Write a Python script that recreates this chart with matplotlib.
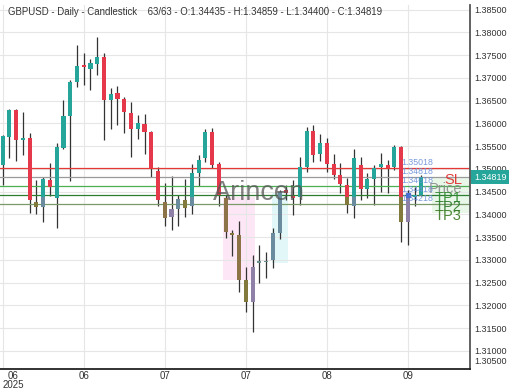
import matplotlib
matplotlib.use('Agg')
import matplotlib.pyplot as plt
from matplotlib.patches import Rectangle
import matplotlib.transforms as mtransforms

plt.rcParams['font.family'] = ['Liberation Sans', 'DejaVu Sans']

# ---------------- data ----------------
symbol = "GBPUSD"
timeframe = "Daily"
chart_type = "Candlestick"

opens = [1.35082, 1.35691, 1.36291, 1.35632, 1.35669, 1.34276, 1.34153, 1.34753, 1.34351, 1.35449,
         1.36159, 1.36900, 1.37274, 1.37192, 1.37309, 1.37450, 1.36511, 1.36671, 1.36526, 1.36232,
         1.35867, 1.35977, 1.35814, 1.34957, 1.34269, 1.33933, 1.34109, 1.34313, 1.34181, 1.34900,
         1.35230, 1.35801, 1.35115, 1.34351, 1.33581, 1.33544, 1.32555, 1.32078, 1.32935, 1.32950,
         1.32995, 1.33595, 1.34533, 1.34408, 1.34379, 1.35045, 1.35836, 1.35324, 1.35573, 1.35098,
         1.34863, 1.34643, 1.34181, 1.35082, 1.34548, 1.34775, 1.35045, 1.35082, 1.35045, 1.35471,
         1.33836, 1.34380, 1.34435]
highs = [1.35742, 1.36313, 1.36313, 1.36241, 1.35792, 1.34753, 1.34825, 1.35133, 1.35559, 1.36511,
         1.36951, 1.37720, 1.37537, 1.37406, 1.37902, 1.37537, 1.36768, 1.36819, 1.36584, 1.36474,
         1.36181, 1.36197, 1.35830, 1.35045, 1.34680, 1.34841, 1.34423, 1.34768, 1.35104, 1.35302,
         1.35867, 1.35889, 1.35155, 1.34423, 1.33654, 1.33858, 1.32834, 1.33104, 1.33324, 1.33177,
         1.33691, 1.34533, 1.34643, 1.34753, 1.35258, 1.35924, 1.35962, 1.35764, 1.35669, 1.35318,
         1.35120, 1.34790, 1.35427, 1.35265, 1.34900, 1.35082, 1.35340, 1.35192, 1.35522, 1.35500,
         1.34533, 1.34600, 1.34859]
lows = [1.34643, 1.35236, 1.35177, 1.35302, 1.34021, 1.34006, 1.33836, 1.34408, 1.33691, 1.35434,
        1.34737, 1.36790, 1.36841, 1.36731, 1.37060, 1.35632, 1.35867, 1.35973, 1.35779, 1.35265,
        1.35647, 1.35318, 1.34825, 1.34181, 1.33742, 1.33654, 1.33742, 1.33933, 1.34006, 1.34621,
        1.35155, 1.35010, 1.34181, 1.33471, 1.33082, 1.32298, 1.31858, 1.31419, 1.32496, 1.32592,
        1.32812, 1.33449, 1.34313, 1.33984, 1.34203, 1.34935, 1.35155, 1.35177, 1.34935, 1.34768,
        1.34474, 1.34021, 1.33911, 1.34313, 1.34351, 1.34203, 1.34496, 1.34474, 1.34973, 1.33397,
        1.33324, 1.34180, 1.34400]
closes = [1.35720, 1.36291, 1.35632, 1.35682, 1.34313, 1.34153, 1.34768, 1.34592, 1.35471, 1.36159,
          1.36913, 1.37258, 1.37230, 1.37331, 1.37450, 1.36511, 1.36643, 1.36526, 1.36247, 1.35867,
          1.35999, 1.35801, 1.35010, 1.34313, 1.33911, 1.34109, 1.34329, 1.34131, 1.34900, 1.35192,
          1.35814, 1.35082, 1.34423, 1.33616, 1.33544, 1.32555, 1.32078, 1.32834, 1.32973, 1.32980,
          1.33581, 1.34496, 1.34467, 1.34351, 1.35045, 1.35836, 1.35302, 1.35559, 1.35104, 1.34863,
          1.34665, 1.34203, 1.35230, 1.34548, 1.34768, 1.35010, 1.35098, 1.35010, 1.35471, 1.33836,
          1.34423, 1.34435, 1.34819]

x_tick_pos = [0, 12, 24, 36, 48, 60]
x_tick_labels = ["06\n2025", "06", "07", "07", "08", "09"]

y_ticks = [1.310, 1.315, 1.320, 1.325, 1.330, 1.335, 1.340, 1.345, 1.350, 1.355,
           1.360, 1.365, 1.370, 1.375, 1.380, 1.385]
y_bottom_label = "1.30500"

level_names = ["SL", "Price", "TP1", "TP2", "TP3"]
level_values = [1.35018, 1.34818, 1.34618, 1.34418, 1.34218]

# highlighted zones: (x_start, x_end, y_low, y_high)
pink_zone = [32.6, 37.4, 1.32555, 1.34386]
cyan_zone = [39.85, 42.3, 1.32922, 1.34496]
label_zone = [63.6, 69.2, 1.34020, 1.34800]

watermark = "Arincen"

# ---------------- styles ----------------
UP = '#26a69a'
DOWN = '#e5384a'
WICK = '#333333'
OLIVE = '#827a3c'
BROWN = '#8c7448'
PURPLE = '#8e80a6'
GRAYBLUE = '#6a8c9e'
GRAYTEAL = '#6b9090'
full_color = {5: OLIVE, 24: BROWN, 25: PURPLE, 26: GRAYBLUE, 27: OLIVE, 33: BROWN,
              34: OLIVE, 35: BROWN, 36: OLIVE, 37: PURPLE, 38: GRAYTEAL, 39: GRAYTEAL,
              40: GRAYBLUE, 41: GRAYBLUE, 60: PURPLE}
partial_tint = {6: GRAYBLUE, 28: GRAYBLUE, 51: OLIVE, 52: GRAYBLUE, 59: OLIVE}
tint_split = 1.3439
level_colors = ['#e53935', '#9a9a9a', '#4caf50', '#2e7d32', '#7a9a6a']
name_colors = ['#e02828', '#8a8a8a', '#2e8b2e', '#2d7a2d', '#3b7a20']

fig = plt.figure(figsize=(5.2, 3.9), dpi=100)
ax = fig.add_axes([0.0, 21 / 390, 470 / 520, 364 / 390])

n = len(opens)
ax.set_xlim(-0.4, 69.2)
ax.set_ylim(1.30599, 1.38601)

# zones
for (x0, x1, y0, y1), col in [(pink_zone, '#fde6f5'), (cyan_zone, '#e2f8f8'), (label_zone, '#e9f7e9')]:
    ax.add_patch(Rectangle((x0, y0), x1 - x0, y1 - y0, facecolor=col, edgecolor='none', zorder=0.5))

# grid
ax.set_yticks(y_ticks)
ax.set_yticklabels([f"{v:.5f}" for v in y_ticks])
ax.set_xticks(x_tick_pos)
ax.set_xticklabels(x_tick_labels, linespacing=0.9)
ax.grid(True, color='#e6e6e6', lw=0.8, zorder=0)
ax.set_axisbelow(True)

# candles
w = 0.6
for i in range(n):
    o, h, l, c = opens[i], highs[i], lows[i], closes[i]
    col = UP if c >= o else DOWN
    col = full_color.get(i, col)
    ax.vlines(i, l, h, color=WICK, lw=0.9, zorder=2)
    lo, hi = min(o, c), max(o, c)
    if hi - lo < 0.00022:
        hi = lo + 0.00022
    ax.add_patch(Rectangle((i - w / 2, lo), w, hi - lo, facecolor=col, edgecolor='none', zorder=3))
    if i in partial_tint and lo < tint_split:
        top = min(hi, tint_split)
        ax.add_patch(Rectangle((i - w / 2, lo), w, top - lo, facecolor=partial_tint[i],
                               edgecolor='none', zorder=3.1))

# entry marker
ax.plot([60], [closes[60]], marker='s', ms=3, color='#4a6fd0', zorder=4)

# levels
for name, val, lc, nc in zip(level_names, level_values, level_colors, name_colors):
    ax.axhline(val, color=lc, lw=0.9, zorder=2.5)
    ax.annotate(f"{val:.5f}", xy=(59, val), xytext=(0, 4.3), textcoords='offset points',
                ha='left', va='center', fontsize=6.3, color='#6a8fd8', alpha=0.9, zorder=5)
    ax.annotate(name, xy=(68.0, val), xytext=(0, -8.3), textcoords='offset points',
                ha='right', va='center', fontsize=10.5, color=nc, alpha=0.9, zorder=5)

# watermark
ax.text(0.551, 0.4835, watermark, transform=ax.transAxes, ha='center', va='center',
        fontsize=19.5, color='#555555', alpha=0.75, zorder=6)

# axes styling
for s in ['top', 'left']:
    ax.spines[s].set_visible(False)
ax.spines['right'].set_color('#555555')
ax.spines['right'].set_linewidth(1.3)
ax.spines['bottom'].set_color('#222222')
ax.spines['bottom'].set_linewidth(1.3)
ax.yaxis.tick_right()
ax.tick_params(axis='y', length=0, pad=3, labelsize=6.5, colors='#333333')
ax.tick_params(axis='x', length=0, pad=1.5, labelsize=7, colors='#333333')
xt = ax.get_xticklabels()
xt[0].set_ha('left')
xt[0].set_multialignment('center')

blend = mtransforms.blended_transform_factory(ax.transAxes, ax.transData)
ax.text(1.0 + 4 / 470, 0.008, y_bottom_label, transform=ax.transAxes, ha='left', va='bottom',
        fontsize=6.5, color='#333333')

# last price tag
last = closes[-1]
ax.text(1.0 + 4 / 470, last, f"{last:.5f}", transform=blend, ha='left', va='center',
        fontsize=6.5, color='white',
        bbox=dict(boxstyle='square,pad=0.3', fc='#26a69a', ec='none'), clip_on=False, zorder=7)

# title
title = (f"{symbol} - {timeframe} - {chart_type}    {n}/{n} - O:{opens[-1]:.5f} - "
         f"H:{highs[-1]:.5f} - L:{lows[-1]:.5f} - C:{closes[-1]:.5f}")
fig.text(8 / 520, 1 - 12 / 390, title, ha='left', va='center', fontsize=6.9, color='#333333')

fig.savefig('out.png', dpi=100)
